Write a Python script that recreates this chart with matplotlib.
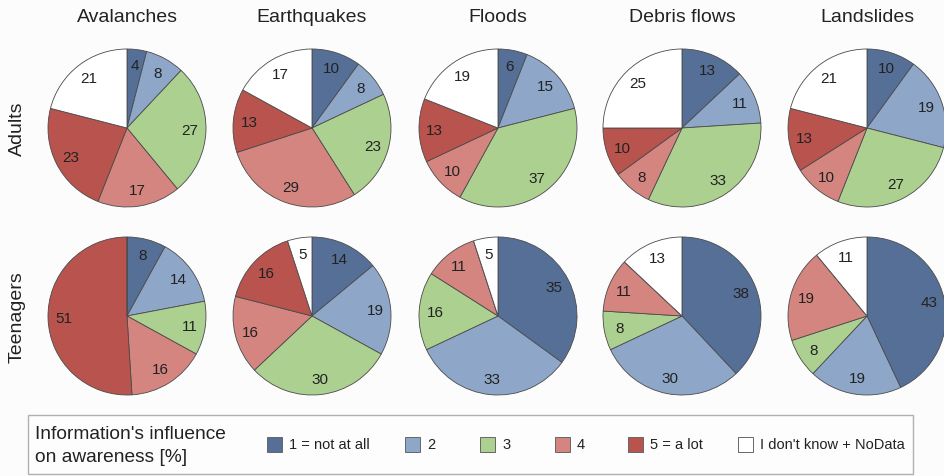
import matplotlib
matplotlib.use("Agg")
import matplotlib.pyplot as plt
from matplotlib.patches import Rectangle

plt.rcParams['font.family'] = ['Liberation Sans', 'DejaVu Sans']

hazards = ["Avalanches", "Earthquakes", "Floods", "Debris flows", "Landslides"]
groups = ["Adults", "Teenagers"]
categories = ["1 = not at all", "2", "3", "4", "5 = a lot", "I don't know + NoData"]
colors = ["#566f96", "#8ea7c9", "#acd08f", "#d5857f", "#b8534e", "#ffffff"]

# shares per category (1, 2, 3, 4, 5, don't know) in %
adults_avalanches = [4, 8, 27, 17, 23, 21]
adults_earthquakes = [10, 8, 23, 29, 13, 17]
adults_floods = [6, 15, 37, 10, 13, 19]
adults_debris = [13, 11, 33, 8, 10, 25]
adults_landslides = [10, 19, 27, 10, 13, 21]

teens_avalanches = [8, 14, 11, 16, 51, 0]
teens_earthquakes = [14, 19, 30, 16, 16, 5]
teens_floods = [35, 33, 16, 11, 0, 5]
teens_debris = [38, 30, 8, 11, 0, 13]
teens_landslides = [43, 19, 8, 19, 0, 11]

rows = [
    [adults_avalanches, adults_earthquakes, adults_floods, adults_debris, adults_landslides],
    [teens_avalanches, teens_earthquakes, teens_floods, teens_debris, teens_landslides],
]

W, H = 944, 477
fig = plt.figure(figsize=(W / 100, H / 100), dpi=100, facecolor="#fcfcfc")
ax = fig.add_axes([0, 0, 1, 1])
ax.set_facecolor("#fcfcfc")

col_x = [127, 312, 498, 682, 867]
row_y = [H - 129, H - 317]
radius = 79

for r, row in enumerate(rows):
    for c, vals in enumerate(row):
        labels = [str(v) if v > 0 else "" for v in vals]
        wedges, texts = ax.pie(
            vals, colors=colors, startangle=90, counterclock=False,
            center=(col_x[c], row_y[r]), radius=radius,
            labels=labels, labeldistance=0.8,
            wedgeprops=dict(edgecolor="#4a4a4a", linewidth=0.6),
            textprops=dict(fontsize=11, color="#222222"),
        )
        for t in texts:
            t.set_horizontalalignment("center")
            t.set_verticalalignment("center")

for c, name in enumerate(hazards):
    ax.text(col_x[c], H - 17, name, ha="center", va="center", fontsize=14, color="#222222")

for r, name in enumerate(groups):
    ax.text(17, row_y[r], name, ha="center", va="center", rotation=90,
            fontsize=14, color="#222222")

# legend panel
ax.add_patch(Rectangle((28, H - 475), 885, 59, facecolor="#fdfdfd",
                       edgecolor="#b0b0b0", linewidth=1.0))
ax.text(35, H - 435, "Information's influence", ha="left", va="center",
        fontsize=13.8, color="#222222")
ax.text(35, H - 458, "on awareness [%]", ha="left", va="center",
        fontsize=13.8, color="#222222")

patch_x = [267, 405, 480, 555, 628, 738]
ly = H - 445.5
for px, lab, col in zip(patch_x, categories, colors):
    ax.add_patch(Rectangle((px, ly - 7.5), 15, 15, facecolor=col,
                           edgecolor="#666666", linewidth=0.7))
    ax.text(px + 22, ly, lab, ha="left", va="center", fontsize=10.5,
            color="#222222")

ax.set_xlim(0, W)
ax.set_ylim(0, H)
ax.set_aspect("equal")
ax.axis("off")

fig.savefig("out.png", dpi=100, facecolor=fig.get_facecolor())
